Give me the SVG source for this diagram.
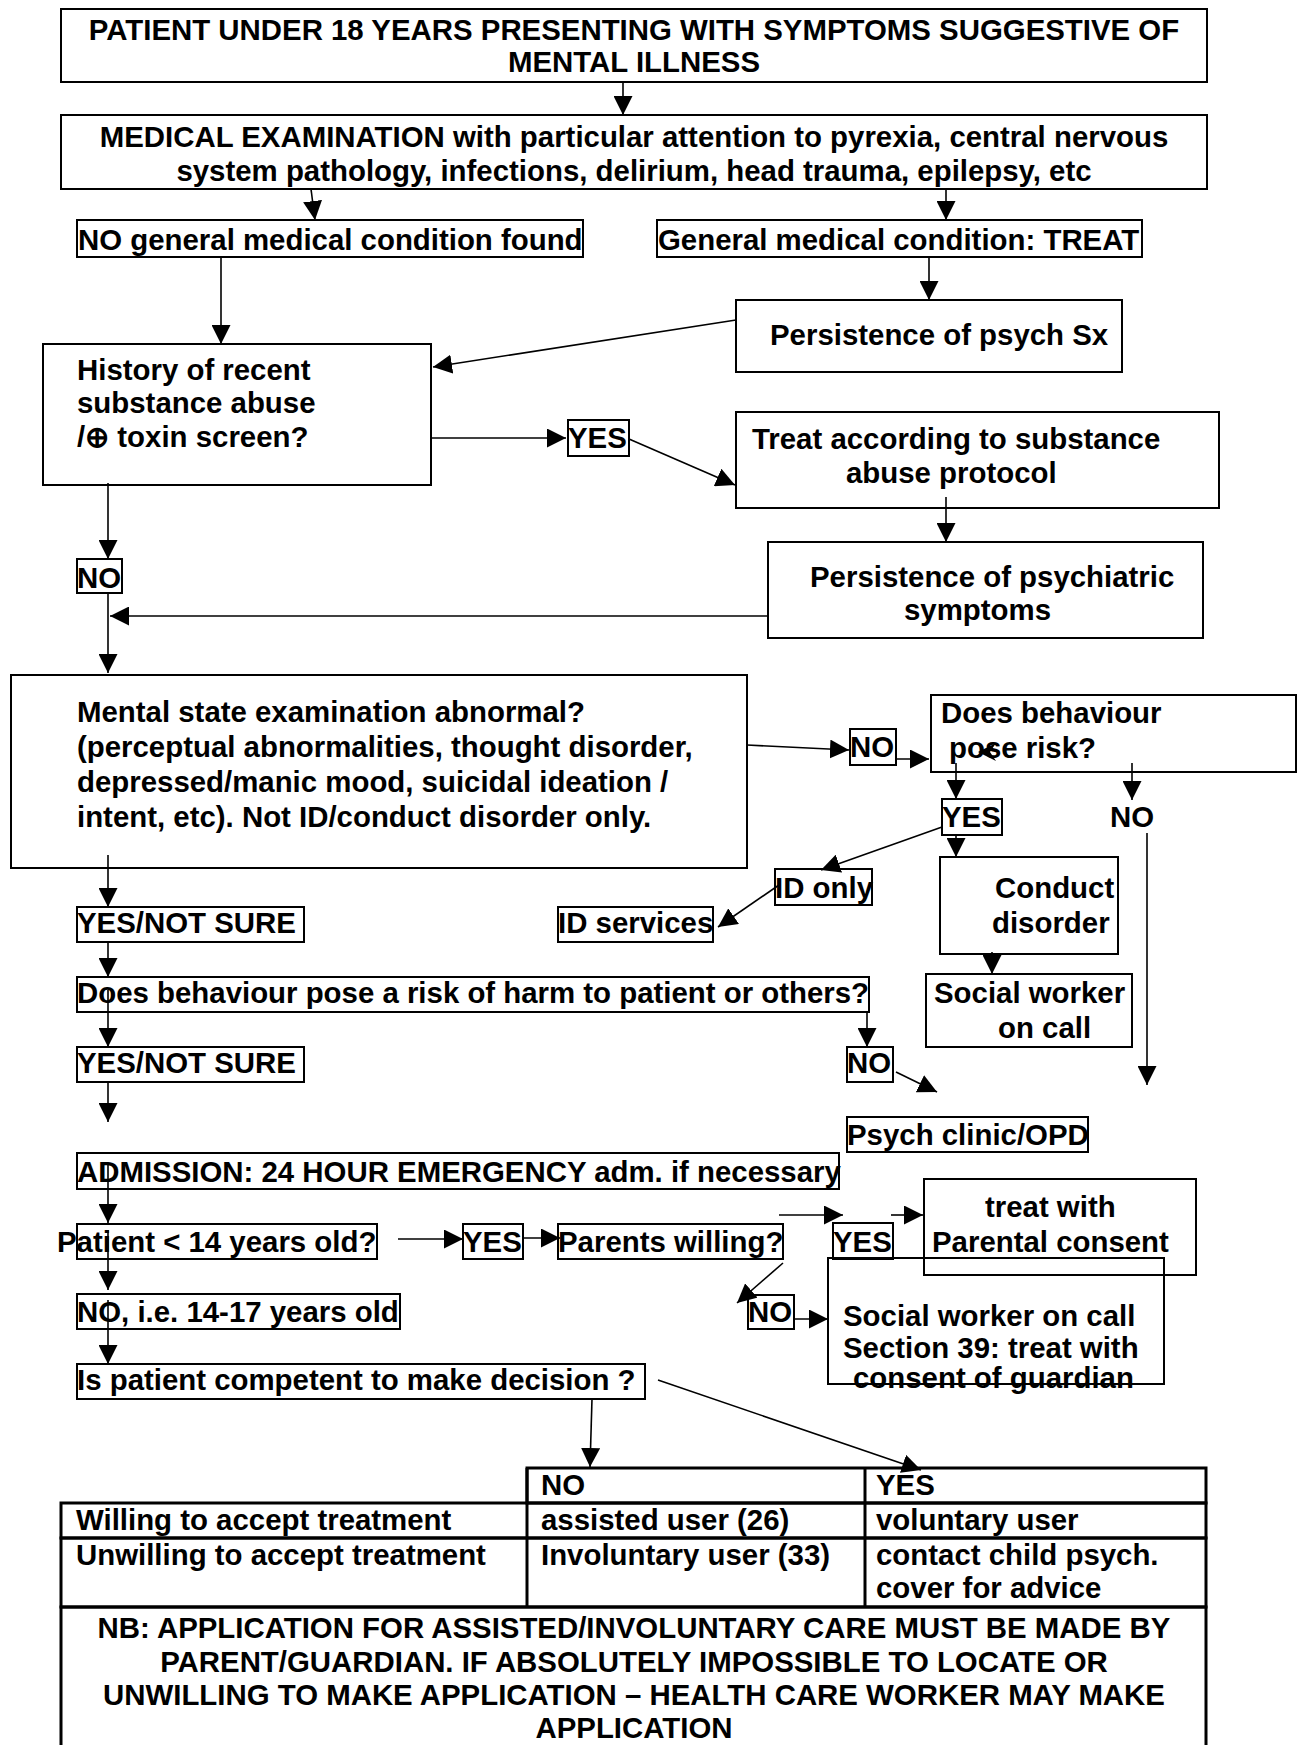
<svg xmlns="http://www.w3.org/2000/svg" width="1299" height="1745" viewBox="0 0 1299 1745">
<style>
.b{fill:none;stroke:#000;stroke-width:2}
.tb{fill:none;stroke:#000;stroke-width:3}
.t{font-family:"Liberation Sans",Arial,sans-serif;font-weight:bold;font-size:29.4px;fill:#000}
.c{text-anchor:middle}
.e{fill:none;stroke:#000;stroke-width:1.6}
</style>
<defs>
<marker id="ah" markerUnits="userSpaceOnUse" markerWidth="19" markerHeight="19" viewBox="0 0 19 19" refX="19" refY="9.5" orient="auto">
<path d="M0,0 L19,9.5 L0,19 z" fill="#000"/>
</marker>
</defs>
<rect width="1299" height="1745" fill="#fff"/>

<g id="connectors">
<line class="e" x1="623" y1="82" x2="623" y2="115" marker-end="url(#ah)"/>
<line class="e" x1="311" y1="189" x2="315" y2="220" marker-end="url(#ah)"/>
<line class="e" x1="946" y1="189" x2="946" y2="220" marker-end="url(#ah)"/>
<line class="e" x1="221" y1="257" x2="221" y2="344" marker-end="url(#ah)"/>
<line class="e" x1="929" y1="257" x2="929" y2="300" marker-end="url(#ah)"/>
<line class="e" x1="736" y1="320" x2="433" y2="367" marker-end="url(#ah)"/>
<line class="e" x1="431" y1="438" x2="566" y2="438" marker-end="url(#ah)"/>
<line class="e" x1="629" y1="439" x2="735" y2="485" marker-end="url(#ah)"/>
<line class="e" x1="946" y1="497" x2="946" y2="542" marker-end="url(#ah)"/>
<line class="e" x1="108" y1="483" x2="108" y2="559" marker-end="url(#ah)"/>
<line class="e" x1="767" y1="616" x2="110" y2="616" marker-end="url(#ah)"/>
<line class="e" x1="108" y1="593" x2="108" y2="673" marker-end="url(#ah)"/>
<line class="e" x1="747" y1="745" x2="849" y2="750" marker-end="url(#ah)"/>
<line class="e" x1="896" y1="759" x2="929" y2="759" marker-end="url(#ah)"/>
<line class="e" x1="956" y1="763" x2="956" y2="799" marker-end="url(#ah)"/>
<line class="e" x1="1132" y1="763" x2="1132" y2="800" marker-end="url(#ah)"/>
<line class="e" x1="1147" y1="833" x2="1147" y2="1085" marker-end="url(#ah)"/>
<line class="e" x1="942" y1="827" x2="821" y2="870" marker-end="url(#ah)"/>
<line class="e" x1="779" y1="885" x2="718" y2="927" marker-end="url(#ah)"/>
<line class="e" x1="956" y1="835" x2="956" y2="857" marker-end="url(#ah)"/>
<line class="e" x1="992" y1="952" x2="992" y2="974" marker-end="url(#ah)"/>
<line class="e" x1="108" y1="855" x2="108" y2="907" marker-end="url(#ah)"/>
<line class="e" x1="108" y1="942" x2="108" y2="977" marker-end="url(#ah)"/>
<line class="e" x1="108" y1="990" x2="108" y2="1047" marker-end="url(#ah)"/>
<line class="e" x1="867" y1="1013" x2="867" y2="1047" marker-end="url(#ah)"/>
<line class="e" x1="896" y1="1072" x2="937" y2="1092" marker-end="url(#ah)"/>
<line class="e" x1="108" y1="1082" x2="108" y2="1122" marker-end="url(#ah)"/>
<line class="e" x1="108" y1="1165" x2="108" y2="1223" marker-end="url(#ah)"/>
<line class="e" x1="398" y1="1239" x2="463" y2="1239" marker-end="url(#ah)"/>
<line class="e" x1="523" y1="1238" x2="560" y2="1238" marker-end="url(#ah)"/>
<line class="e" x1="779" y1="1215" x2="843" y2="1215" marker-end="url(#ah)"/>
<line class="e" x1="891" y1="1215" x2="923" y2="1215" marker-end="url(#ah)"/>
<line class="e" x1="783" y1="1263" x2="737" y2="1303" marker-end="url(#ah)"/>
<line class="e" x1="794" y1="1319" x2="828" y2="1319" marker-end="url(#ah)"/>
<line class="e" x1="108" y1="1230" x2="108" y2="1290" marker-end="url(#ah)"/>
<line class="e" x1="108" y1="1300" x2="108" y2="1364" marker-end="url(#ah)"/>
<line class="e" x1="592" y1="1399" x2="590" y2="1467" marker-end="url(#ah)"/>
<line class="e" x1="658" y1="1380" x2="921" y2="1470" marker-end="url(#ah)"/>
<path d="M978,752 L996,743 L990,752 L996,761 z" fill="#000"/>
</g>

<g id="n-top"><rect class="b" x="61" y="9" width="1146" height="73"/>
<text class="t c" x="634" y="40">PATIENT UNDER 18 YEARS PRESENTING WITH SYMPTOMS SUGGESTIVE OF</text>
<text class="t c" x="634" y="72">MENTAL ILLNESS</text></g>

<g id="n-medical"><rect class="b" x="61" y="115" width="1146" height="74"/>
<text class="t c" x="634" y="147">MEDICAL EXAMINATION with particular attention to pyrexia, central nervous</text>
<text class="t c" x="634" y="181">system pathology, infections, delirium, head trauma, epilepsy, etc</text></g>

<g id="n-nogeneral"><rect class="b" x="77" y="220" width="506" height="37"/>
<text class="t" x="78" y="250">NO general medical condition found</text></g>

<g id="n-general"><rect class="b" x="657" y="220" width="485" height="37"/>
<text class="t" x="658" y="250">General medical condition: TREAT</text></g>

<g id="n-persist1"><rect class="b" x="736" y="300" width="386" height="72"/>
<text class="t" x="770" y="345">Persistence of psych Sx</text></g>

<g id="n-history"><rect class="b" x="43" y="344" width="388" height="141"/>
<text class="t" x="77" y="380">History of recent</text>
<text class="t" x="77" y="413">substance abuse</text>
<text class="t" x="77" y="447">/⊕ toxin screen?</text></g>

<g id="n-yes1"><rect class="b" x="568" y="420" width="61" height="36"/>
<text class="t" x="568" y="448">YES</text></g>

<g id="n-treatsub"><rect class="b" x="736" y="412" width="483" height="96"/>
<text class="t" x="752" y="449">Treat according to substance</text>
<text class="t" x="846" y="483">abuse protocol</text></g>

<g id="n-persist2"><rect class="b" x="768" y="542" width="435" height="96"/>
<text class="t" x="810" y="587">Persistence of psychiatric</text>
<text class="t" x="904" y="620">symptoms</text></g>

<g id="n-no1"><rect class="b" x="77" y="559" width="45" height="34"/>
<text class="t" x="77" y="588">NO</text></g>

<g id="n-mse"><rect class="b" x="11" y="675" width="736" height="193"/>
<text class="t" x="77" y="722">Mental state examination abnormal?</text>
<text class="t" x="77" y="757">(perceptual abnormalities, thought disorder,</text>
<text class="t" x="77" y="792">depressed/manic mood, suicidal ideation /</text>
<text class="t" x="77" y="827">intent, etc). Not ID/conduct disorder only.</text></g>

<g id="n-no2"><rect class="b" x="850" y="729" width="46" height="36"/>
<text class="t" x="850" y="757">NO</text></g>

<g id="n-doesrisk"><rect class="b" x="931" y="695" width="365" height="77"/>
<text class="t" x="941" y="723">Does behaviour</text>
<text class="t" x="949" y="758">pose risk?</text></g>

<g id="n-yes2"><rect class="b" x="942" y="799" width="60" height="36"/>
<text class="t" x="942" y="827">YES</text></g>

<g id="n-no-plain"><text class="t" x="1110" y="827">NO</text></g>

<g id="n-idonly"><rect class="b" x="775" y="869" width="97" height="36"/>
<text class="t" x="775" y="898">ID only</text></g>

<g id="n-idservices"><rect class="b" x="558" y="907" width="155" height="35"/>
<text class="t" x="558" y="933">ID services</text></g>

<g id="n-conduct"><rect class="b" x="940" y="857" width="178" height="97"/>
<text class="t" x="995" y="898">Conduct</text>
<text class="t" x="992" y="933">disorder</text></g>

<g id="n-social1"><rect class="b" x="926" y="974" width="206" height="73"/>
<text class="t" x="934" y="1003">Social worker</text>
<text class="t" x="998" y="1038">on call</text></g>

<g id="n-yesns1"><rect class="b" x="77" y="907" width="227" height="35"/>
<text class="t" x="77" y="933">YES/NOT SURE</text></g>

<g id="n-riskharm"><rect class="b" x="77" y="977" width="792" height="35"/>
<text class="t" x="77" y="1003">Does behaviour pose a risk of harm to patient or others?</text></g>

<g id="n-yesns2"><rect class="b" x="77" y="1047" width="227" height="35"/>
<text class="t" x="77" y="1073">YES/NOT SURE</text></g>

<g id="n-no3"><rect class="b" x="847" y="1047" width="46" height="35"/>
<text class="t" x="847" y="1073">NO</text></g>

<g id="n-clinic"><rect class="b" x="847" y="1117" width="241" height="35"/>
<text class="t" x="847" y="1145">Psych clinic/OPD</text></g>

<g id="n-admission"><rect class="b" x="77" y="1153" width="762" height="36"/>
<text class="t" x="77" y="1182">ADMISSION: 24 HOUR EMERGENCY adm. if necessary</text></g>

<g id="n-under14"><rect class="b" x="77" y="1224" width="300" height="35"/>
<text class="t" x="57" y="1252">Patient &lt; 14 years old?</text></g>

<g id="n-yes3"><rect class="b" x="463" y="1224" width="60" height="35"/>
<text class="t" x="463" y="1252">YES</text></g>

<g id="n-parents"><rect class="b" x="558" y="1224" width="225" height="35"/>
<text class="t" x="558" y="1252">Parents willing?</text></g>

<g id="n-yes4"><rect class="b" x="833" y="1223" width="60" height="36"/>
<text class="t" x="833" y="1252">YES</text></g>

<g id="n-parental"><rect class="b" x="924" y="1179" width="272" height="96"/>
<text class="t" x="985" y="1217">treat with</text>
<text class="t" x="932" y="1252">Parental consent</text></g>

<g id="n-social2"><rect class="b" x="828" y="1258" width="336" height="126"/>
<text class="t" x="843" y="1326">Social worker on call</text>
<text class="t" x="843" y="1358">Section 39: treat with</text>
<text class="t" x="853" y="1388">consent of guardian</text></g>

<g id="n-no4"><rect class="b" x="748" y="1295" width="46" height="34"/>
<text class="t" x="748" y="1322">NO</text></g>

<g id="n-no1417"><rect class="b" x="77" y="1294" width="323" height="35"/>
<text class="t" x="77" y="1322">NO, i.e. 14-17 years old</text></g>

<g id="n-competent"><rect class="b" x="77" y="1364" width="568" height="35"/>
<text class="t" x="77" y="1390">Is patient competent to make decision ?</text></g>

<g id="n-table">
<rect class="tb" x="527" y="1468" width="679" height="35"/>
<rect class="tb" x="61" y="1503" width="1145" height="35"/>
<rect class="tb" x="61" y="1538" width="1145" height="69"/>
<line class="tb" x1="527" y1="1468" x2="527" y2="1607"/>
<line class="tb" x1="865" y1="1468" x2="865" y2="1607"/>
<text class="t" x="541" y="1495">NO</text>
<text class="t" x="876" y="1495">YES</text>
<text class="t" x="76" y="1530">Willing to accept treatment</text>
<text class="t" x="541" y="1530">assisted user (26)</text>
<text class="t" x="876" y="1530">voluntary user</text>
<text class="t" x="76" y="1565">Unwilling to accept treatment</text>
<text class="t" x="541" y="1565">Involuntary user (33)</text>
<text class="t" x="876" y="1565">contact child psych.</text>
<text class="t" x="876" y="1598">cover for advice</text>
</g>

<g id="n-nb"><rect class="tb" x="61" y="1607" width="1145" height="150"/>
<text class="t c" x="634" y="1638">NB: APPLICATION FOR ASSISTED/INVOLUNTARY CARE MUST BE MADE BY</text>
<text class="t c" x="634" y="1672">PARENT/GUARDIAN. IF ABSOLUTELY IMPOSSIBLE TO LOCATE OR</text>
<text class="t c" x="634" y="1705">UNWILLING TO MAKE APPLICATION – HEALTH CARE WORKER MAY MAKE</text>
<text class="t c" x="634" y="1738">APPLICATION</text></g>
</svg>
